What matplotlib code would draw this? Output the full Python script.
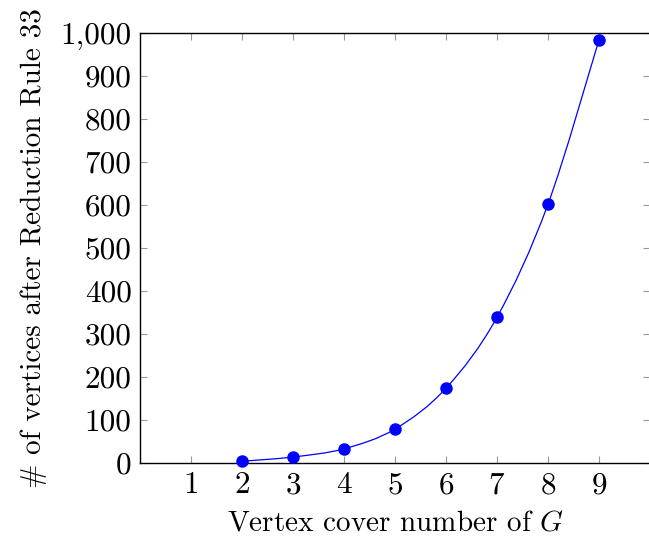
import numpy as np
import matplotlib
matplotlib.use('Agg')
from matplotlib import pyplot as plt
from matplotlib.path import Path
from matplotlib.patches import PathPatch
from matplotlib.ticker import FuncFormatter

cover = [2, 3, 4, 5, 6, 7, 8, 9]
vertices = [4, 14, 33, 79, 174, 339, 602, 984]
xticks = [1, 2, 3, 4, 5, 6, 7, 8, 9]
yticks = [0, 100, 200, 300, 400, 500, 600, 700, 800, 900, 1000]

plt.rcParams['font.family'] = 'cmr10'
plt.rcParams['mathtext.fontset'] = 'cm'
plt.rcParams['axes.formatter.use_mathtext'] = True

fig = plt.figure(figsize=(6.49, 5.45), dpi=100)
ax = fig.add_axes([140/649, 82/545, 510/649, 430/545])

# smooth curve through the points (cubic bezier segments, like pgfplots "smooth")
pts = np.column_stack([cover, vertices]).astype(float)
verts = [pts[0]]
codes = [Path.MOVETO]
t = 1/6
for i in range(len(pts) - 1):
    p0 = pts[max(i - 1, 0)]
    p1 = pts[i]
    p2 = pts[i + 1]
    p3 = pts[min(i + 2, len(pts) - 1)]
    verts += [p1 + t*(p2 - p0), p2 - t*(p3 - p1), p2]
    codes += [Path.CURVE4]*3
ax.add_patch(PathPatch(Path(verts, codes), facecolor='none', edgecolor='blue', lw=0.9, zorder=2))
ax.plot(cover, vertices, 'o', color='blue', ms=8.0, zorder=3, clip_on=False)

ax.set_xlim(0, 10)
ax.set_ylim(0, 1000)
ax.set_xticks(xticks)
ax.set_yticks(yticks)
ax.yaxis.set_major_formatter(FuncFormatter(lambda v, p: f"{int(v):,}"))
ax.tick_params(direction='in', length=5, width=0.8, color='#999999',
               top=True, right=True, labelsize=22.5, pad=6)
for s in ax.spines.values():
    s.set_linewidth(1.0)

ax.set_xlabel('Vertex cover number of $G$', fontsize=21, labelpad=8)
ax.set_ylabel('# of vertices after Reduction Rule 33', fontsize=21, labelpad=10)

fig.savefig('out.png', dpi=100)
